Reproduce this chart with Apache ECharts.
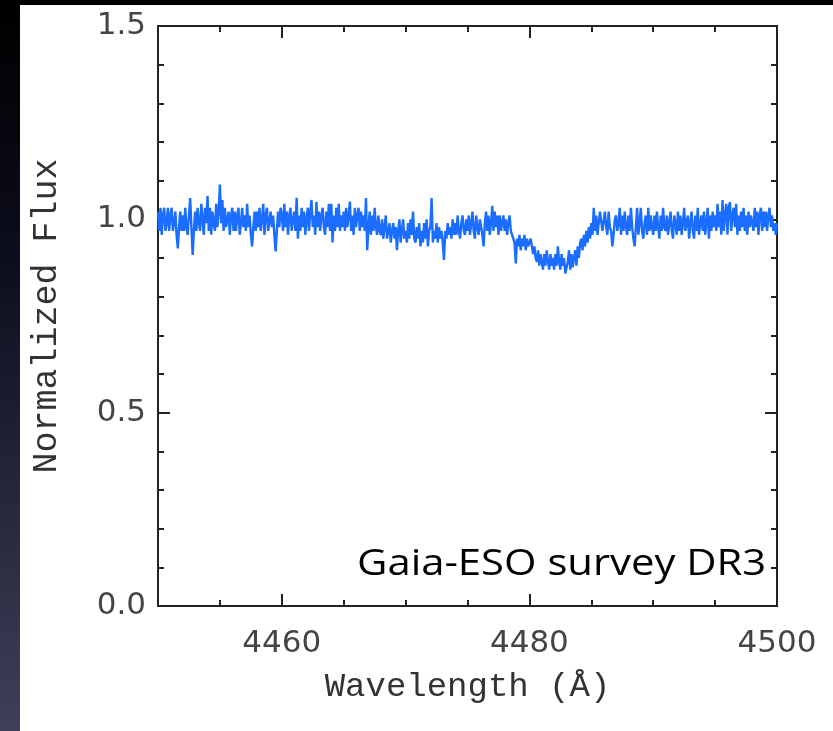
<!DOCTYPE html>
<html>
<head>
<meta charset="utf-8">
<script src="https://cdn.jsdelivr.net/npm/echarts@6/dist/echarts.min.js"></script>
<style>
  html, body { margin: 0; padding: 0; background: #ffffff; }
  #chart { width: 833px; height: 731px; }
</style>
</head>
<body>
<div id="chart"></div>
<script>
// Spectrum sampling grid (Angstrom)
const wavelengthStart = 4450;
const wavelengthStep = 0.1;

// Normalized flux, one row per Angstrom (4450.0 ... 4499.9), then 4500.0
const flux = [
  1.02, 0.97, 1.03, 0.96, 1.01, 1.03, 0.97, 0.99, 1.03, 0.97,
  1.01, 1.03, 0.97, 0.99, 1.02, 0.96, 0.925, 0.98, 1.02, 0.97,
  1.01, 0.97, 1.03, 0.98, 0.96, 1.01, 1.055, 0.98, 0.908, 0.97,
  1.02, 0.97, 1.03, 0.99, 0.97, 1.04, 1.00, 0.96, 1.03, 0.99,
  1.06, 0.97, 1.03, 0.96, 1.02, 0.99, 0.97, 1.04, 0.98, 1.02,
  1.09, 0.99, 1.05, 0.97, 1.03, 0.98, 1.00, 1.02, 0.96, 1.01,
  1.03, 0.97, 1.02, 0.97, 1.01, 1.03, 0.96, 0.99, 1.03, 0.98,
  1.01, 0.97, 1.04, 0.98, 1.01, 0.96, 0.93, 0.98, 1.02, 0.97,
  1.02, 0.98, 1.03, 0.97, 1.00, 1.04, 0.96, 1.01, 1.03, 0.97,
  0.97, 1.02, 0.98, 1.01, 0.96, 0.917, 0.97, 1.02, 0.98, 1.03,
  1.01, 0.97, 1.04, 0.98, 1.02, 0.96, 1.01, 1.03, 0.97, 1.00,
  1.02, 0.97, 1.056, 0.95, 1.01, 0.97, 1.03, 0.98, 1.02, 0.96,
  1.00, 1.03, 0.97, 1.02, 1.05, 0.98, 1.01, 0.96, 1.045, 0.98,
  1.02, 0.97, 1.01, 1.03, 0.98, 0.96, 1.02, 0.98, 1.04, 0.97,
  1.04, 0.94, 1.01, 0.97, 1.03, 0.98, 1.04, 0.97, 1.01, 0.98,
  1.02, 0.97, 1.03, 0.98, 1.01, 1.046, 0.97, 1.01, 0.96, 1.03,
  0.98, 1.01, 1.03, 0.97, 1.02, 0.98, 1.01, 0.97, 1.055, 0.92,
  0.98, 1.02, 0.96, 1.01, 0.97, 1.03, 0.98, 0.96, 1.01, 0.97,
  0.96, 1.00, 0.95, 0.98, 1.01, 0.95, 0.97, 0.99, 0.94, 0.97,
  0.99, 0.95, 0.98, 0.92, 0.97, 1.00, 0.94, 0.97, 1.00, 0.95,
  0.97, 0.94, 0.99, 0.95, 1.00, 0.96, 1.02, 0.95, 0.94, 0.98,
  0.95, 0.99, 0.93, 0.97, 0.94, 0.99, 0.95, 1.00, 0.93, 0.97,
  0.98, 1.055, 0.94, 0.97, 0.95, 0.99, 0.94, 0.98, 0.95, 0.97,
  0.94, 0.895, 0.97, 0.95, 0.99, 0.96, 0.98, 0.95, 1.00, 0.96,
  0.99, 0.96, 1.01, 0.97, 0.95, 0.99, 1.01, 0.97, 0.96, 1.00,
  0.97, 1.01, 0.96, 0.99, 1.02, 0.97, 0.95, 1.01, 0.98, 0.96,
  1.00, 0.98, 0.96, 0.93, 0.99, 1.02, 0.97, 1.01, 0.96, 0.99,
  1.035, 0.97, 1.02, 0.98, 1.01, 0.96, 1.01, 0.97, 0.99, 1.01,
  0.97, 1.00, 0.96, 0.99, 1.01, 0.97, 0.96, 0.95, 0.94, 0.886,
  0.95, 0.93, 0.96, 0.92, 0.95, 0.93, 0.96, 0.92, 0.95, 0.93,
  0.93, 0.95, 0.93, 0.91, 0.93, 0.90, 0.89, 0.92, 0.88, 0.91,
  0.89, 0.87, 0.91, 0.88, 0.92, 0.89, 0.87, 0.91, 0.88, 0.90,
  0.87, 0.91, 0.88, 0.93, 0.89, 0.87, 0.91, 0.88, 0.90, 0.86,
  0.865, 0.89, 0.92, 0.87, 0.91, 0.876, 0.90, 0.92, 0.88, 0.93,
  0.90, 0.94, 0.95, 0.92, 0.96, 0.93, 0.97, 0.94, 0.98, 0.95,
  0.99, 0.96, 1.03, 0.97, 1.01, 0.96, 0.99, 1.02, 1.02, 0.97,
  0.97, 1.02, 0.98, 0.96, 1.02, 0.98, 0.97, 0.93, 0.96, 1.00,
  1.01, 0.97, 0.99, 1.03, 0.96, 1.01, 0.97, 1.02, 0.98, 0.96,
  1.01, 0.97, 1.03, 0.98, 0.95, 0.93, 0.98, 1.03, 0.96, 0.99,
  1.03, 0.97, 0.95, 0.99, 1.01, 0.96, 1.03, 0.97, 1.01, 0.98,
  0.96, 1.01, 0.97, 1.02, 0.98, 0.95, 1.01, 0.97, 1.03, 0.98,
  0.97, 1.01, 0.96, 0.99, 1.02, 0.97, 0.95, 1.01, 0.99, 0.96,
  1.02, 0.97, 1.01, 0.96, 0.99, 1.03, 0.97, 0.99, 1.01, 0.95,
  0.99, 1.02, 0.97, 0.95, 1.01, 0.97, 1.03, 0.96, 0.99, 1.01,
  0.97, 1.02, 0.96, 0.99, 1.03, 0.95, 1.01, 0.97, 1.02, 0.98,
  1.01, 0.97, 1.04, 0.98, 1.02, 0.96, 1.05, 0.97, 1.01, 1.04,
  0.96, 1.03, 1.045, 0.97, 1.01, 1.03, 0.98, 1.04, 0.96, 1.01,
  0.97, 1.02, 0.98, 1.03, 0.97, 1.01, 0.96, 1.02, 0.98, 1.01,
  1.01, 0.97, 1.03, 0.98, 1.02, 0.96, 1.01, 1.03, 0.97, 1.02,
  0.98, 1.02, 0.97, 1.01, 1.03, 0.98, 1.01, 0.97, 0.99, 0.96,
  0.99
];

// Axis ranges and labelled ticks
const xRange = [4450, 4500];
const yRange = [0, 1.5];
const xLabelValues = [4460, 4480, 4500];
const xMajorTickValues = [4460, 4480];

const spectrum = flux.map((f, i) => [+(wavelengthStart + i * wavelengthStep).toFixed(1), f]);

const frameColor = '#222222';
const labelColor = '#444444';
const labelFont = 'DejaVu Sans';

function xAxisBase(position) {
  return {
    type: 'value', gridIndex: 0, position: position,
    min: xRange[0], max: xRange[1], interval: 5,
    axisLine: { show: false },
    splitLine: { show: false },
    axisLabel: { show: false },
    axisTick: { show: true, inside: true, length: 6, lineStyle: { color: frameColor, width: 2 } }
  };
}

function xAxisMajor(position) {
  const a = xAxisBase(position);
  a.axisTick = { show: true, inside: true, length: 12, customValues: xMajorTickValues,
                 lineStyle: { color: frameColor, width: 2 } };
  return a;
}

function yAxisBase(position, withLabels) {
  return {
    type: 'value', gridIndex: 0, position: position,
    min: yRange[0], max: yRange[1], interval: 0.5,
    axisLine: { show: false },
    splitLine: { show: false },
    minorSplitLine: { show: false },
    axisTick: { show: true, inside: true, length: 12, lineStyle: { color: frameColor, width: 2 } },
    minorTick: { show: true, splitNumber: 5, length: 6, lineStyle: { color: frameColor, width: 2 } },
    axisLabel: withLabels ? {
      show: true, margin: 12, color: labelColor, fontFamily: labelFont, fontSize: 31,
      formatter: v => v.toFixed(1)
    } : { show: false }
  };
}

const bottomAxis = xAxisBase('bottom');
bottomAxis.axisLabel = { show: true, customValues: xLabelValues, margin: 22,
  color: labelColor, fontFamily: labelFont, fontSize: 31, formatter: v => String(v) };
bottomAxis.name = 'Wavelength (Å)';
bottomAxis.nameLocation = 'middle';
bottomAxis.nameGap = 64;
bottomAxis.nameTextStyle = { fontFamily: 'Liberation Mono', fontSize: 34, color: '#333333' };

const leftAxis = yAxisBase('left', true);
leftAxis.name = 'Normalized Flux';
leftAxis.nameLocation = 'middle';
leftAxis.nameGap = 94;
leftAxis.nameTextStyle = { fontFamily: 'Liberation Mono', fontSize: 35, color: '#333333' };

const chart = echarts.init(document.getElementById('chart'), null, { renderer: 'canvas' });

chart.setOption({
  backgroundColor: '#ffffff',
  animation: false,
  grid: {
    left: 158, right: 56, top: 26, bottom: 125,
    show: true, borderColor: frameColor, borderWidth: 2, backgroundColor: 'transparent'
  },
  xAxis: [bottomAxis, xAxisMajor('bottom'), xAxisBase('top'), xAxisMajor('top')],
  yAxis: [leftAxis, yAxisBase('right', false)],
  series: [{
    type: 'line',
    xAxisIndex: 0, yAxisIndex: 0,
    data: spectrum,
    showSymbol: false,
    symbol: 'none',
    sampling: null,
    clip: true,
    lineStyle: { color: '#1a6dff', width: 2.4 }
  }],
  graphic: [
    { type: 'rect', left: 0, top: 0, z: 100,
      shape: { x: 0, y: 0, width: 833, height: 5 }, style: { fill: '#000000' } },
    { type: 'rect', left: 0, top: 0, z: 100,
      shape: { x: 0, y: 0, width: 20, height: 731 },
      style: { fill: new echarts.graphic.LinearGradient(0, 0, 0, 1, [
        { offset: 0, color: '#000000' },
        { offset: 0.35, color: '#0c0d1c' },
        { offset: 1, color: '#3d4058' }
      ]) } },
    { type: 'text', left: 357, top: 546, z: 100,
      scaleX: 1.13,
      style: { text: 'Gaia-ESO survey DR3', fill: '#000000',
               font: '37px "Open Sans"' } }
  ]
});
</script>
</body>
</html>
